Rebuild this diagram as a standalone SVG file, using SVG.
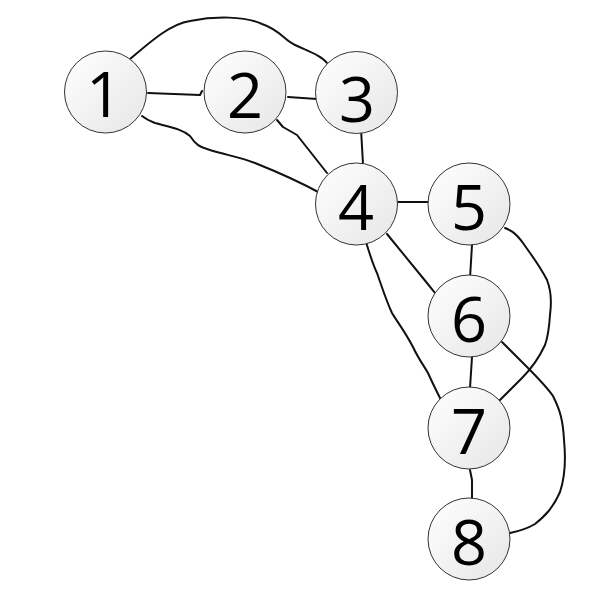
<svg xmlns="http://www.w3.org/2000/svg" width="615" height="604" viewBox="0 0 615 604">
<defs>
<linearGradient id="g" x1="0" y1="0" x2="1" y2="1">
<stop offset="0" stop-color="#ffffff"/>
<stop offset="1" stop-color="#e6e6e6"/>
</linearGradient>
<style>
.n circle{fill:url(#g);stroke:#333;stroke-width:1}
.n text{font-family:"Open Sans","DejaVu Sans",sans-serif;font-size:63px;fill:#000;text-anchor:middle;dominant-baseline:central}
.e path{fill:none;stroke:#111;stroke-width:2;stroke-linejoin:round;stroke-linecap:round}
</style>
</defs>
<rect width="615" height="604" fill="#fff"/>
<g id="edges" class="e">
<path d="M129,60 C150,42 170,24 190,21 C215,16 245,16 262,24 C280,30 284,40 295,45 C310,52 322,56 327,63"/>
<path d="M148,93 L200,95 L202,91"/>
<path d="M288,97 L317,99"/>
<path d="M361,129 L363,164"/>
<path d="M277,120 L283,127 L297,135 L327,173"/>
<path d="M142,116 C147,120 150,121 155,123 C170,127 182,129 190,136 C196,145 200,147 207,149 C225,155 240,157 255,163 C280,173 300,182 320,193"/>
<path d="M398,202 L428,202"/>
<path d="M387,234 L427,283 L435,293"/>
<path d="M366,242 C370,255 373,265 377,273 C383,290 386,300 392,313 C396,320 404,330 413,347 C418,358 424,366 428,373 C432,382 436,390 440,398"/>
<path d="M472,245 L470,278"/>
<path d="M505,228 C510,230 515,232 523,243 C532,256 540,266 547,280 C551,290 552,300 550,315 C549,330 548,337 545,345 C538,360 530,370 522,378 C512,388 505,395 500,400"/>
<path d="M472,357 L470,388"/>
<path d="M502,342 C512,352 520,360 527,367 C537,377 546,386 553,396 C560,410 563,420 564,440 C566,460 564,480 560,492 C553,508 545,516 535,524 C525,530 515,532 510,533"/>
<path d="M470,470 L472,480 L472,500"/>
</g>
<g id="node1" class="n"><circle cx="105.5" cy="92" r="41"/><text x="104" y="92">1</text></g>
<g id="node2" class="n"><circle cx="245" cy="92" r="41"/><text x="245" y="93">2</text></g>
<g id="node3" class="n"><circle cx="356.5" cy="92.5" r="41"/><text x="357" y="97">3</text></g>
<g id="node4" class="n"><circle cx="356.5" cy="204" r="41"/><text x="356" y="205">4</text></g>
<g id="node5" class="n"><circle cx="469" cy="204" r="41"/><text x="469" y="205">5</text></g>
<g id="node6" class="n"><circle cx="469" cy="316" r="41"/><text x="469" y="317">6</text></g>
<g id="node7" class="n"><circle cx="469" cy="428" r="41"/><text x="469" y="429">7</text></g>
<g id="node8" class="n"><circle cx="469" cy="539" r="41"/><text x="469" y="540">8</text></g>
</svg>
